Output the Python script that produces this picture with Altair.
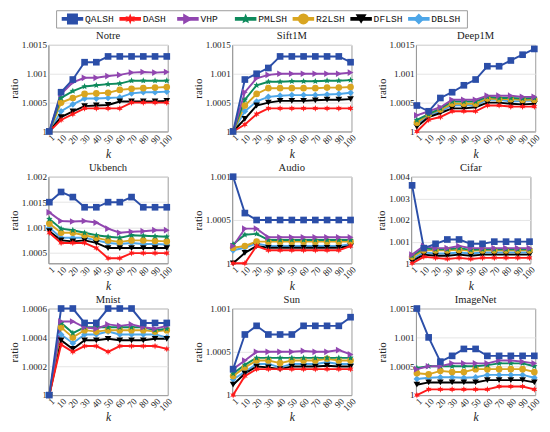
import math
import altair as alt
import pandas as pd

K = ["1", "10", "20", "30", "40", "50", "60", "70", "80", "90", "100"]
SERIES = ["QALSH", "DASH", "VHP", "PMLSH", "R2LSH", "DFLSH", "DBLSH"]
COLORS = ["#2B4EA8", "#FF1A1A", "#9146B0", "#0E8A5C", "#D9A520", "#000000", "#4DA6E8"]

NOTRE = {
    "QALSH": [1, 1.00068, 1.0009, 1.0012, 1.0012, 1.0013, 1.0013, 1.0013, 1.0013, 1.0013, 1.0013],
    "DASH": [1, 1.0002, 1.0003, 1.0004, 1.0004, 1.0004, 1.0004, 1.0005, 1.0005, 1.0005, 1.0005],
    "VHP": [1, 1.00065, 1.00085, 1.00093, 1.00093, 1.00096, 1.00098, 1.00102, 1.00103, 1.00102, 1.00103],
    "PMLSH": [1, 1.00058, 1.0007, 1.00078, 1.0008, 1.00082, 1.00083, 1.00088, 1.00088, 1.00088, 1.00088],
    "R2LSH": [1, 1.0005, 1.00058, 1.00065, 1.00066, 1.00067, 1.00072, 1.00074, 1.00075, 1.00076, 1.00077],
    "DFLSH": [1, 1.00025, 1.00035, 1.00044, 1.00045, 1.00046, 1.00052, 1.00052, 1.00052, 1.00052, 1.00053],
    "DBLSH": [1, 1.00035, 1.00047, 1.00057, 1.00057, 1.00058, 1.00059, 1.00066, 1.00068, 1.00068, 1.00069],
}
SIFT1M = {
    "QALSH": [1, 1.0009, 1.001, 1.0011, 1.0013, 1.0013, 1.0013, 1.0013, 1.0013, 1.0013, 1.0012],
    "DASH": [1, 1.00012, 1.0003, 1.0004, 1.0004, 1.0004, 1.0004, 1.0004, 1.0004, 1.0004, 1.0004],
    "VHP": [1, 1.00068, 1.00092, 1.00098, 1.001, 1.001, 1.001, 1.001, 1.001, 1.001, 1.00102],
    "PMLSH": [1, 1.00055, 1.0008, 1.00086, 1.00086, 1.00087, 1.00087, 1.00087, 1.00088, 1.00088, 1.00089],
    "R2LSH": [1, 1.00045, 1.00065, 1.00075, 1.00075, 1.00075, 1.00075, 1.00075, 1.00076, 1.00076, 1.00077],
    "DFLSH": [1, 1.00022, 1.00045, 1.0005, 1.00053, 1.00053, 1.00053, 1.00054, 1.00055, 1.00055, 1.00056],
    "DBLSH": [1, 1.00035, 1.00052, 1.0006, 1.00062, 1.00063, 1.00063, 1.00063, 1.00064, 1.00065, 1.00067],
}
DEEP1M = {
    "QALSH": [1.00045, 1.00035, 1.00058, 1.00068, 1.0008, 1.0009, 1.00113, 1.00113, 1.00123, 1.00133, 1.00143],
    "DASH": [1, 1.0002, 1.00025, 1.00035, 1.00035, 1.00035, 1.00045, 1.00045, 1.00043, 1.00043, 1.00043],
    "VHP": [1.00028, 1.00035, 1.00042, 1.00055, 1.00055, 1.00055, 1.00062, 1.00062, 1.00062, 1.0006, 1.0006],
    "PMLSH": [1.0002, 1.0003, 1.0004, 1.00052, 1.00052, 1.00052, 1.0006, 1.00058, 1.00058, 1.00057, 1.00058],
    "R2LSH": [1.00015, 1.0003, 1.00038, 1.00048, 1.00048, 1.00048, 1.00057, 1.00056, 1.00056, 1.00055, 1.00055],
    "DFLSH": [1.00008, 1.00025, 1.00032, 1.0004, 1.0004, 1.00042, 1.0005, 1.0005, 1.00048, 1.00047, 1.00048],
    "DBLSH": [1.00012, 1.00028, 1.00035, 1.00045, 1.00046, 1.00045, 1.00055, 1.00055, 1.00052, 1.00053, 1.00053],
}
UKBENCH = {
    "QALSH": [1.0015, 1.0017, 1.0016, 1.0014, 1.0014, 1.0015, 1.0015, 1.0016, 1.0014, 1.0014, 1.0014],
    "DASH": [1.0009, 1.0007, 1.0007, 1.0007, 1.0006, 1.0004, 1.0004, 1.0005, 1.0005, 1.0005, 1.0005],
    "VHP": [1.0013, 1.00113, 1.00112, 1.00113, 1.0011, 1.00098, 1.0009, 1.00092, 1.00093, 1.00095, 1.00095],
    "PMLSH": [1.00117, 1.00098, 1.00095, 1.0009, 1.00085, 1.00082, 1.0008, 1.00085, 1.00084, 1.00083, 1.00082],
    "R2LSH": [1.00108, 1.0009, 1.0009, 1.00085, 1.0008, 1.00075, 1.00072, 1.00075, 1.00075, 1.00074, 1.00073],
    "DFLSH": [1.00093, 1.00075, 1.00073, 1.00075, 1.0007, 1.0006, 1.0006, 1.0006, 1.0006, 1.0006, 1.0006],
    "DBLSH": [1.001, 1.0008, 1.0008, 1.0008, 1.00075, 1.0007, 1.00068, 1.0007, 1.00068, 1.00068, 1.00067],
}
AUDIO = {
    "QALSH": [1.001, 1.00058, 1.0005, 1.0005, 1.0005, 1.0005, 1.0005, 1.0005, 1.0005, 1.0005, 1.0005],
    "DASH": [1.0, 1.0, 1.0002, 1.00015, 1.00015, 1.00015, 1.00015, 1.00015, 1.00015, 1.00015, 1.0002],
    "VHP": [1.0002, 1.0004, 1.0004, 1.0003, 1.0003, 1.0003, 1.0003, 1.0003, 1.0003, 1.0003, 1.0003],
    "PMLSH": [1.00022, 1.00033, 1.00034, 1.00027, 1.00027, 1.00027, 1.00027, 1.00027, 1.00027, 1.00027, 1.00027],
    "R2LSH": [1.00018, 1.0002, 1.00025, 1.00025, 1.00025, 1.00025, 1.00025, 1.00025, 1.00025, 1.00025, 1.00025],
    "DFLSH": [1.0, 1.00012, 1.0002, 1.00018, 1.00018, 1.00018, 1.00018, 1.00018, 1.00018, 1.00018, 1.0002],
    "DBLSH": [1.00015, 1.00018, 1.00023, 1.0002, 1.0002, 1.0002, 1.0002, 1.0002, 1.0002, 1.0002, 1.00022],
}
CIFAR = {
    "QALSH": [1.0036, 1.0007, 1.0009, 1.0011, 1.0011, 1.0009, 1.0009, 1.001, 1.001, 1.001, 1.001],
    "DASH": [1.0, 1.0003, 1.00025, 1.0002, 1.00025, 1.0002, 1.00025, 1.00025, 1.00025, 1.00025, 1.00025],
    "VHP": [1.0004, 1.0008, 1.0007, 1.0007, 1.0008, 1.0007, 1.0007, 1.0007, 1.0007, 1.0007, 1.0007],
    "PMLSH": [1.00035, 1.0007, 1.00065, 1.00065, 1.0007, 1.00062, 1.00065, 1.00065, 1.00065, 1.00065, 1.00065],
    "R2LSH": [1.0003, 1.0006, 1.0006, 1.0006, 1.00062, 1.00058, 1.0006, 1.0006, 1.0006, 1.0006, 1.0006],
    "DFLSH": [1.0001, 1.0004, 1.00035, 1.00035, 1.0004, 1.00035, 1.0004, 1.0004, 1.0004, 1.0004, 1.0004],
    "DBLSH": [1.0002, 1.0005, 1.00045, 1.00045, 1.0005, 1.00045, 1.0005, 1.0005, 1.0005, 1.0005, 1.0005],
}
MNIST = {
    "QALSH": [1, 1.0006, 1.0006, 1.0005, 1.0005, 1.0006, 1.0006, 1.0006, 1.0005, 1.0005, 1.0005],
    "DASH": [1, 1.00035, 1.0003, 1.00034, 1.00034, 1.0003, 1.00034, 1.00034, 1.00034, 1.00034, 1.00032],
    "VHP": [1, 1.00051, 1.00051, 1.00047, 1.00046, 1.00049, 1.00048, 1.00049, 1.00047, 1.00046, 1.00048],
    "PMLSH": [1, 1.0005, 1.00043, 1.00047, 1.00047, 1.00047, 1.00047, 1.00047, 1.00047, 1.00045, 1.00046],
    "R2LSH": [1, 1.00047, 1.0004, 1.00045, 1.00044, 1.00045, 1.00045, 1.00045, 1.00045, 1.00044, 1.00045],
    "DFLSH": [1, 1.00038, 1.00032, 1.00038, 1.00038, 1.00039, 1.00038, 1.00038, 1.00038, 1.00039, 1.00039],
    "DBLSH": [1, 1.00042, 1.00036, 1.00042, 1.00042, 1.00044, 1.00042, 1.00042, 1.00042, 1.00042, 1.0004],
}
SUN = {
    "QALSH": [1.0003, 1.0007, 1.0008, 1.0007, 1.0007, 1.0007, 1.0008, 1.0008, 1.0008, 1.0008, 1.0009],
    "DASH": [1.0, 1.00022, 1.0003, 1.0003, 1.0003, 1.0003, 1.0003, 1.0003, 1.0003, 1.0003, 1.0003],
    "VHP": [1.0003, 1.0004, 1.0005, 1.0005, 1.0005, 1.0005, 1.00051, 1.0005, 1.0005, 1.00052, 1.00047],
    "PMLSH": [1.00025, 1.00035, 1.00043, 1.00043, 1.00043, 1.00043, 1.00043, 1.00043, 1.00043, 1.00043, 1.00043],
    "R2LSH": [1.00022, 1.00032, 1.0004, 1.0004, 1.00037, 1.0004, 1.0004, 1.0004, 1.00042, 1.0004, 1.0004],
    "DFLSH": [1.00012, 1.00025, 1.00033, 1.00032, 1.0003, 1.00033, 1.00033, 1.00033, 1.00034, 1.00033, 1.00033],
    "DBLSH": [1.00018, 1.00027, 1.00036, 1.00036, 1.00032, 1.00036, 1.00036, 1.00036, 1.00038, 1.00036, 1.00036],
}
IMAGENET = {
    "QALSH": [1.0015, 1.001, 1.00058, 1.00068, 1.0008, 1.0008, 1.00068, 1.00068, 1.00068, 1.00068, 1.00068],
    "DASH": [1.0, 1.0001, 1.0001, 1.0001, 1.0001, 1.0001, 1.0001, 1.00015, 1.00015, 1.00015, 1.0001],
    "VHP": [1.00045, 1.0005, 1.0005, 1.00055, 1.00055, 1.00055, 1.00055, 1.0006, 1.0006, 1.00058, 1.00055],
    "PMLSH": [1.00047, 1.0005, 1.0005, 1.0005, 1.0005, 1.0005, 1.00052, 1.00055, 1.00055, 1.00055, 1.0005],
    "R2LSH": [1.00038, 1.00036, 1.00042, 1.0004, 1.0004, 1.00045, 1.00045, 1.00045, 1.00045, 1.00045, 1.0004],
    "DFLSH": [1.00018, 1.00022, 1.00022, 1.00022, 1.00022, 1.00022, 1.00026, 1.00026, 1.00026, 1.00026, 1.00022],
    "DBLSH": [1.00028, 1.0003, 1.00031, 1.00031, 1.0003, 1.00031, 1.00035, 1.00035, 1.00035, 1.00035, 1.0003],
}

T15 = [1, 1.0005, 1.001, 1.0015]
PANELS = [
    ("Notre", NOTRE, [1, 1.0015], T15),
    ("Sift1M", SIFT1M, [1, 1.0015], T15),
    ("Deep1M", DEEP1M, [1, 1.0015], T15),
    ("Ukbench", UKBENCH, [1.0003, 1.002], [1.0005, 1.001, 1.0015, 1.002]),
    ("Audio", AUDIO, [1, 1.001], [1, 1.0005, 1.001]),
    ("Cifar", CIFAR, [1, 1.004], [1, 1.001, 1.002, 1.003, 1.004]),
    ("Mnist", MNIST, [1, 1.0006], [1, 1.0002, 1.0004, 1.0006]),
    ("Sun", SUN, [1, 1.001], [1, 1.0005, 1.001]),
    ("ImageNet", IMAGENET, [1, 1.0015], T15),
]


def star_path(n, r_in):
    pts = []
    for i in range(2 * n):
        ang = math.radians(-90 + i * 180.0 / n)
        r = 1.0 if i % 2 == 0 else r_in
        pts.append(f"{r * math.cos(ang):.3f},{r * math.sin(ang):.3f}")
    return "M" + "L".join(pts) + "Z"


SHAPES = ["square", star_path(6, 0.45), "triangle-right", star_path(5, 0.45),
          "circle", "triangle-down", "diamond"]

FONT = "Liberation Serif"
color_scale = alt.Scale(domain=SERIES, range=COLORS)
shape_scale = alt.Scale(domain=SERIES, range=SHAPES)

PW, PH = 124, 90


def panel(name, d, domain, ticks):
    rows = []
    for s in SERIES[::-1]:
        for k, v in zip(K, d[s]):
            rows.append({"k": k, "series": s, "ratio": v})
    df = pd.DataFrame(rows)
    base = alt.Chart(df).encode(
        x=alt.X("k:O", sort=K, scale=alt.Scale(padding=0.08),
                axis=alt.Axis(title="k", labelAngle=-45, titleFontStyle="italic",
                              titleFontSize=12, ticks=False, labelPadding=1, titlePadding=0)),
        y=alt.Y("ratio:Q", scale=alt.Scale(domain=domain, nice=False, zero=False),
                axis=alt.Axis(title="ratio", values=ticks, format="~g", ticks=False,
                              labelPadding=2, titlePadding=2)),
        color=alt.Color("series:N", scale=color_scale, legend=None),
    )
    lines = base.mark_line(strokeWidth=2)
    pts = base.mark_point(filled=True, size=48, opacity=1).encode(
        shape=alt.Shape("series:N", scale=shape_scale, legend=None))
    return alt.layer(lines, pts).properties(title=name, width=PW, height=PH)


panels = [panel(*p) for p in PANELS]
rows = [alt.hconcat(*panels[i:i + 3], spacing=18) for i in range(0, 9, 3)]
grid = alt.vconcat(*rows, spacing=1)

leg_df = pd.DataFrame({"series": SERIES})
lbase = alt.Chart(leg_df).encode(
    x=alt.X("series:N", sort=SERIES, scale=alt.Scale(range=[17, 377], padding=0), axis=None),
    y=alt.value(9),
    color=alt.Color("series:N", scale=color_scale, legend=None),
)
leg_line = lbase.mark_point(shape="stroke", size=500, strokeWidth=4, opacity=1, clip=True)
leg_pt = lbase.mark_point(filled=True, size=130, opacity=1, clip=True).encode(
    shape=alt.Shape("series:N", scale=shape_scale, legend=None))
leg_txt = lbase.mark_text(align="left", baseline="middle", dx=13, font="Liberation Mono",
                          fontSize=10, clip=True).encode(text="series:N", color=alt.value("#111"))
legend = alt.layer(leg_line, leg_pt, leg_txt).properties(width=427, height=18)

spacer = alt.Chart(leg_df).mark_point(opacity=0).encode(
    x=alt.value(0), y=alt.value(0)
).properties(width=6, height=18, view=alt.ViewBackground(stroke="transparent"))

top = alt.hconcat(spacer, legend, spacing=0)

chart = alt.vconcat(top, grid, spacing=1).configure_view(
    stroke="#999", strokeWidth=1
).configure_axis(
    labelFont=FONT, titleFont=FONT, labelFontSize=9.5, titleFontSize=11.5,
    titleFontWeight="normal", labelColor="#222", titleColor="#222",
    gridColor="#e4e4e4", domainColor="#999",
).configure_title(
    font=FONT, fontSize=11, fontWeight="normal", offset=-1, color="#222"
).properties(padding={"left": 0, "right": 0, "top": -10, "bottom": 0})

chart.save("out.html", embed_options={"renderer": "svg", "actions": False})
